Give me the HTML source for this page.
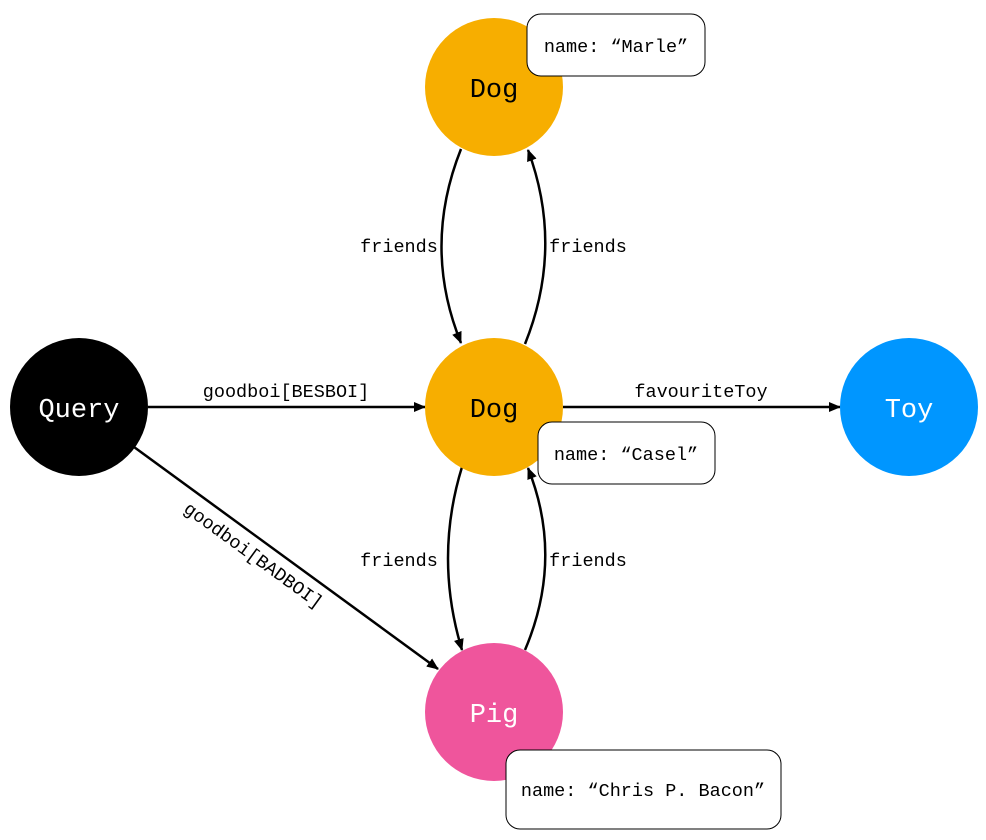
<!DOCTYPE html>
<html><head><meta charset="utf-8"><style>
body{margin:0;background:#fff}
svg{display:block}
text{font-family:"Liberation Mono",monospace}
</style></head><body>
<svg width="986" height="840" viewBox="0 0 986 840" xmlns="http://www.w3.org/2000/svg">
<defs>
<marker id="a" markerWidth="12" markerHeight="10" refX="11" refY="5" orient="auto" markerUnits="userSpaceOnUse">
<path d="M0,0 L12,5 L0,10 Z" fill="#000"/></marker>
</defs>
<g fill="none" stroke="#000" stroke-width="2.5">
<path d="M461,149 Q422,247 461,343" marker-end="url(#a)"/>
<path d="M525,344 Q564,247 528,150" marker-end="url(#a)"/>
<path d="M462,467 Q434,558 462,650" marker-end="url(#a)"/>
<path d="M525,650 Q564,558 528,468" marker-end="url(#a)"/>
<path d="M148,407 L425,407" marker-end="url(#a)"/>
<path d="M563,407 L840,407" marker-end="url(#a)"/>
<path d="M134,447 L438,669" marker-end="url(#a)"/>
</g>
<circle cx="494" cy="87" r="69" fill="#f7ae00"/>
<circle cx="494" cy="407" r="69" fill="#f7ae00"/>
<circle cx="79" cy="407" r="69" fill="#000"/>
<circle cx="909" cy="407" r="69" fill="#0096ff"/>
<circle cx="494" cy="712" r="69" fill="#ef559c"/>
<g font-size="27" text-anchor="middle">
<text x="494" y="97" fill="#000">Dog</text>
<text x="494" y="417" fill="#000">Dog</text>
<text x="79" y="417" fill="#fff">Query</text>
<text x="909" y="417" fill="#fff">Toy</text>
<text x="494" y="722" fill="#fff">Pig</text>
</g>
<g fill="#fff" stroke="#000" stroke-width="1">
<rect x="527" y="14" width="178" height="62" rx="14"/>
<rect x="538" y="422" width="177" height="62" rx="14"/>
<rect x="506" y="750" width="275" height="79" rx="14"/>
</g>
<g font-size="18.5" text-anchor="middle" fill="#000">
<text x="616" y="52">name: “Marle”</text>
<text x="626" y="460">name: “Casel”</text>
<text x="643" y="796">name: “Chris P. Bacon”</text>
<text x="399" y="252">friends</text>
<text x="588" y="252">friends</text>
<text x="399" y="566">friends</text>
<text x="588" y="566">friends</text>
<text x="286" y="397">goodboi[BESBOI]</text>
<text x="701" y="397">favouriteToy</text>
<text x="250" y="560" transform="rotate(36 250 560)">goodboi[BADBOI]</text>
</g>
</svg>
</body></html>
